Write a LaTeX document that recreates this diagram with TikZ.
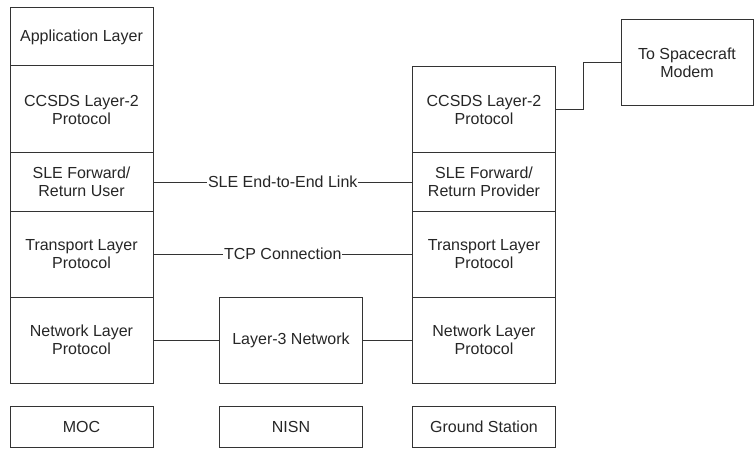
\documentclass[tikz,border=0pt]{standalone}
\usepackage{fontspec}
\setmainfont{Liberation Sans}

\begin{document}
\begin{tikzpicture}[x=1pt,y=-1pt,line width=1pt,layer/.style={shape=rectangle,draw=black!80,text=black!85,align=center,inner sep=0pt,minimum width=143pt,font=\fontsize{16}{18}\selectfont},layerS/.style={layer,minimum height=58pt},layerT/.style={layer,minimum height=86pt},site/.style={layer,minimum height=41pt},link/.style={draw=black!80},linklabel/.style={fill=white,text=black!85,inner xsep=1pt,inner ysep=0pt,font=\fontsize{16}{18}\selectfont}]
\def\xa{81.5};
\def\xb{291};
\def\xc{484};

\useasboundingbox (0,0) rectangle (754,449);

\node[layerS] (App) at (\xa,37) {Application Layer};
\node[layerT,minimum height=87pt] (L2) at (\xa,109.5) {CCSDS Layer-2\\Protocol};
\node[layerS] (SLEu) at (\xa,182) {SLE Forward/\\Return User};
\node[layerT] (TL) at (\xa,254) {Transport Layer\\Protocol};
\node[layerT] (NL) at (\xa,340) {Network Layer\\Protocol};
\node[site] (MOC) at (\xa,426.5) {MOC};

\node[layerT] (Net) at (\xb,340) {Layer-3 Network};
\node[site] (NISN) at (\xb,426.5) {NISN};

\node[layerT] (L2g) at (\xc,110) {CCSDS Layer-2\\Protocol};
\node[layerS] (SLEp) at (\xc,182) {SLE Forward/\\Return Provider};
\node[layerT] (TLg) at (\xc,254) {Transport Layer\\Protocol};
\node[layerT] (NLg) at (\xc,340) {Network Layer\\Protocol};
\node[site] (GS) at (\xc,426.5) {Ground Station};

\node[layerT,minimum width=132pt] (Modem) at (687,63) {To Spacecraft\\Modem};

\draw[link] (SLEu.east) -- node[linklabel] {SLE End-to-End Link} (SLEp.west);
\draw[link] (TL.east) -- node[linklabel] {TCP Connection} (TLg.west);
\draw[link] (NL.east) -- (Net.west);
\draw[link] (Net.east) -- (NLg.west);
\draw[link] (L2g.east) -- ++(27,0) |- (Modem.west);
\end{tikzpicture}
\end{document}
